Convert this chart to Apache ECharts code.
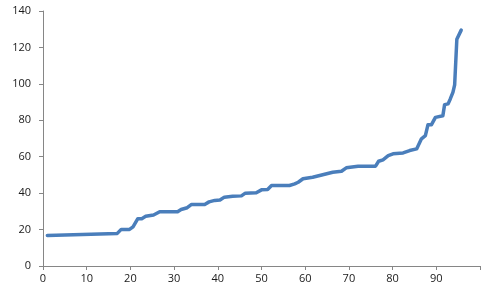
<!DOCTYPE html>
<html>
<head>
<meta charset="utf-8">
<script src="https://cdn.jsdelivr.net/npm/echarts@6/dist/echarts.min.js"></script>
<style>
html,body{margin:0;padding:0;background:#fff;}
#c{width:500px;height:295px;}
</style>
</head>
<body>
<div id="c"></div>
<script>
// x positions (rank) and values
var xs = [1, 17, 17.9, 19.8, 20.6, 21.7, 22.6, 23.5, 25.3, 26.7, 30.8, 31.6, 33, 34, 37, 38, 39.3, 40.5, 41.5, 43.4, 45.4, 46.3, 48.8, 50, 51.4, 52.3, 56.4, 57.6, 58.4, 59.5, 61.7, 64, 66.3, 68.3, 69.4, 72.1, 76.1, 76.8, 77.8, 79, 80.1, 82.4, 83.9, 85.5, 86.6, 87.5, 88.1, 88.9, 89.8, 91.5, 91.9, 92.7, 93.2, 93.8, 94.2, 94.7, 95.7];
var ys = [16.8, 17.9, 20.1, 20.1, 21.5, 26, 26, 27.3, 28, 29.8, 29.8, 31, 32, 33.8, 33.8, 35.2, 36, 36.2, 37.8, 38.3, 38.5, 40, 40.2, 41.8, 42, 44.2, 44.2, 45.1, 46, 47.9, 48.7, 50.1, 51.5, 52, 53.9, 54.8, 54.8, 57.5, 58.3, 60.6, 61.6, 62.1, 63.4, 64.3, 69.8, 71.6, 77.6, 77.6, 81.6, 82.5, 88.6, 89, 91.7, 95.3, 99.5, 124.5, 129.5];
var xTickLabels = ['0', '10', '20', '30', '40', '50', '60', '70', '80', '90'];
var yTickLabels = ['0', '20', '40', '60', '80', '100', '120', '140'];

var pts = xs.map(function (x, i) { return [x, ys[i]]; });
var chart = echarts.init(document.getElementById('c'), null, {renderer: 'canvas'});
var axisCol = '#868686';
var lblFont = {color: '#1a1a1a', fontSize: 11, fontFamily: 'Open Sans, Noto Sans, sans-serif'};
chart.setOption({
  animation: false,
  backgroundColor: '#ffffff',
  grid: {left: 43, right: 20, top: 11, bottom: 29, containLabel: false},
  xAxis: {
    type: 'value', min: 0, max: 100, interval: 10,
    splitLine: {show: false},
    axisLine: {show: true, lineStyle: {color: axisCol, width: 1}},
    axisTick: {show: true, length: 4, lineStyle: {color: axisCol}},
    axisLabel: Object.assign({margin: 7, formatter: function (v) {
      var s = String(v); return xTickLabels.indexOf(s) >= 0 ? s : '';
    }}, lblFont)
  },
  yAxis: {
    type: 'value', min: 0, max: 140, interval: 20,
    splitLine: {show: false},
    axisLine: {show: true, lineStyle: {color: axisCol, width: 1}},
    axisTick: {show: true, length: 4, lineStyle: {color: axisCol}},
    axisLabel: Object.assign({margin: 12, formatter: function (v) {
      var s = String(v); return yTickLabels.indexOf(s) >= 0 ? s : '';
    }}, lblFont)
  },
  series: [{
    type: 'line',
    data: pts,
    showSymbol: false,
    smooth: false,
    lineStyle: {color: '#4a7ebb', width: 3.5, cap: 'round', join: 'round'},
    itemStyle: {color: '#4a7ebb'}
  }]
});
</script>
</body>
</html>
